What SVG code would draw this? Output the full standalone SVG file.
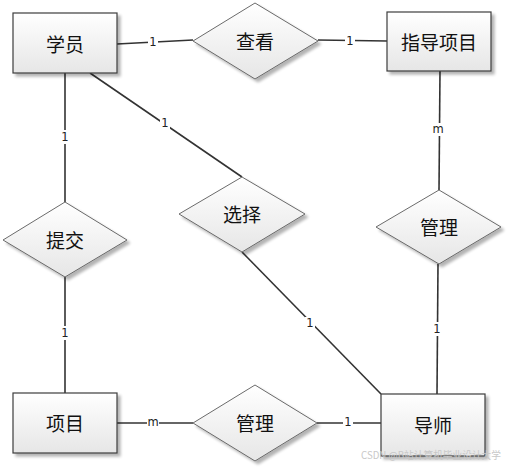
<svg xmlns="http://www.w3.org/2000/svg" width="507" height="467" viewBox="0 0 507 467">
<defs>
<linearGradient id="g" x1="0" y1="0" x2="0" y2="1">
<stop offset="0" stop-color="#ffffff"/>
<stop offset="1" stop-color="#e6e6e6"/>
</linearGradient>
<filter id="sh" x="-10%" y="-10%" width="130%" height="130%">
<feGaussianBlur in="SourceAlpha" stdDeviation="1.5"/>
<feOffset dx="3" dy="3" result="b"/>
<feComponentTransfer><feFuncA type="linear" slope="0.3"/></feComponentTransfer>
<feMerge><feMergeNode/><feMergeNode in="SourceGraphic"/></feMerge>
</filter>
</defs>
<style>
.ent{fill:url(#g);stroke:#3c3c3c;stroke-width:1.2;filter:url(#sh)}
.rel{fill:url(#g);stroke:#6a6a6a;stroke-width:1;filter:url(#sh)}
.t{font-family:"Noto Sans CJK SC","Microsoft YaHei",sans-serif;font-size:19px;fill:#111;text-anchor:middle;dominant-baseline:central}
.c{stroke:#333;stroke-width:1.6;fill:none}
.lb{font-family:"DejaVu Sans","Liberation Sans",sans-serif;font-size:11.5px;fill:#222;text-anchor:middle;dominant-baseline:central}
.lbg{fill:#fff}
.wm{font-family:"Noto Sans CJK SC",sans-serif;font-size:10px;fill:#c8c8c8}
</style>
<rect width="507" height="467" fill="#fff"/>
<g id="connectors">
<path class="c" d="M117,44 L193,40"/>
<path class="c" d="M318,40 L387,41"/>
<path class="c" d="M440,71 L439,190"/>
<path class="c" d="M438,264 L437,394"/>
<path class="c" d="M65,73 L65,202"/>
<path class="c" d="M65,277 L65,393"/>
<path class="c" d="M90,73 L242,177"/>
<path class="c" d="M242,252 L381,394"/>
<path class="c" d="M117,423 L193,423"/>
<path class="c" d="M317,423 L381,423"/>
<rect class="lbg" x="148" y="35" width="10" height="13"/><text class="lb" x="153" y="42">1</text>
<rect class="lbg" x="345" y="34" width="10" height="13"/><text class="lb" x="350" y="41">1</text>
<rect class="lbg" x="432" y="123" width="12" height="13"/><text class="lb" x="438" y="129">m</text>
<rect class="lbg" x="432" y="322" width="10" height="14"/><text class="lb" x="437" y="329">1</text>
<rect class="lbg" x="60" y="130" width="10" height="14"/><text class="lb" x="65" y="137">1</text>
<rect class="lbg" x="60" y="326" width="10" height="14"/><text class="lb" x="65" y="333">1</text>
<rect class="lbg" x="160" y="117" width="10" height="13"/><text class="lb" x="165" y="123">1</text>
<rect class="lbg" x="305" y="317" width="10" height="13"/><text class="lb" x="310" y="323">1</text>
<rect class="lbg" x="147" y="417" width="12" height="12"/><text class="lb" x="153" y="422">m</text>
<rect class="lbg" x="343" y="417" width="10" height="12"/><text class="lb" x="348" y="422">1</text>
</g>
<g id="xueyuan"><rect class="ent" x="13" y="13" width="104" height="60"/><text class="t" x="65" y="43">学员</text></g>
<g id="zhidaoxiangmu"><rect class="ent" x="387" y="12" width="104" height="59"/><text class="t" x="439" y="41">指导项目</text></g>
<g id="xiangmu"><rect class="ent" x="13" y="393" width="104" height="60"/><text class="t" x="65" y="422">项目</text></g>
<g id="daoshi"><rect class="ent" x="381" y="394" width="104" height="62"/><text class="t" x="433" y="424">导师</text></g>
<g id="chakan"><polygon class="rel" points="255,3 318,41 255,79 193,41"/><text class="t" x="255" y="40">查看</text></g>
<g id="guanli1"><polygon class="rel" points="439,190 501,227 439,264 376,227"/><text class="t" x="439" y="226">管理</text></g>
<g id="tijiao"><polygon class="rel" points="65,202 127,240 65,277 3,240"/><text class="t" x="65" y="239">提交</text></g>
<g id="xuanze"><polygon class="rel" points="242,177 305,214 242,252 179,214"/><text class="t" x="242" y="213">选择</text></g>
<g id="guanli2"><polygon class="rel" points="255,385 317,423 255,461 193,423"/><text class="t" x="255" y="422">管理</text></g>
<text class="wm" x="361" y="459" textLength="140" lengthAdjust="spacingAndGlyphs">CSDN @B站计算机毕业设计大学</text>
</svg>
